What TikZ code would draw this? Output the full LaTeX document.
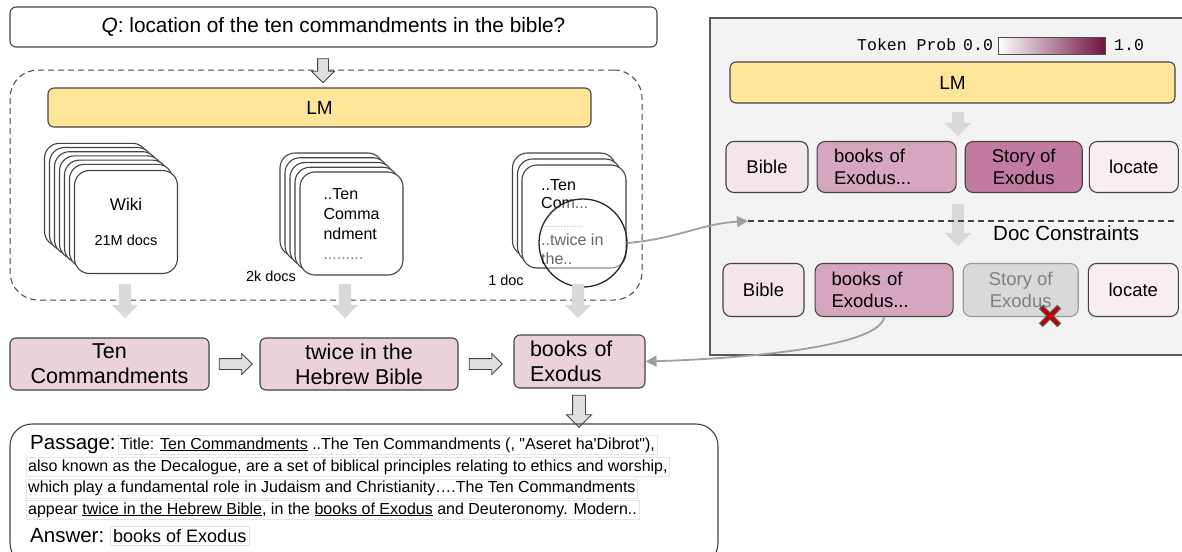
\documentclass[tikz,border=0pt]{standalone}
\usepackage{fontspec}
\setmainfont{Liberation Sans}
\setmonofont{Liberation Mono}
\usetikzlibrary{positioning, arrows.meta, shapes.arrows, shapes.misc}
\definecolor{lmyellow}{HTML}{FFE599}
\definecolor{rowpink}{HTML}{EAD1DC}
\definecolor{tokpale}{HTML}{F4E6EC}
\definecolor{tokmid}{HTML}{D5A6BD}
\definecolor{tokhigh}{HTML}{C27BA0}
\definecolor{probmax}{HTML}{6E1241}
\definecolor{panelgray}{HTML}{F3F3F3}
\definecolor{edge}{HTML}{434343}
\newcommand{\fsz}[2]{\fontsize{#1}{#2}\selectfont}
\newcommand{\dq}{\XeTeXglyph\XeTeXcharglyph"22\relax} % straight double quote
\newcommand{\sq}{\XeTeXglyph\XeTeXcharglyph"27\relax} % straight apostrophe
\tikzset{
	>={Triangle[length=11pt,width=11pt]}, % filled heads for the grey links
	box/.style={draw=edge, line width=1.1pt, rounded corners=6pt, inner sep=0pt}, % every framed box
	lmbar/.style={box, fill=lmyellow, font=\fsz{19}{23}}, % the yellow LM bars
	rowbox/.style={box, fill=rowpink, minimum height=52pt, align=center, font=\fsz{21.5}{25}}, % retrieved spans
	tok/.style={box, rounded corners=8pt, minimum height=51pt, align=center, font=\fsz{18.5}{22}}, % candidate tokens
	docard/.style={box, fill=white, minimum size=103pt, rounded corners=15pt, align=left}, % one document
	blockdown/.style={single arrow, shape border rotate=270, draw=edge, line width=0.9pt, fill=gray!25, inner sep=5pt, single arrow head extend=6pt}, % outlined block arrow
	blockright/.style={single arrow, draw=edge, line width=0.9pt, fill=gray!25, inner sep=5pt, single arrow head extend=5pt, minimum height=33pt}, % outlined, pointing right
	graydown/.style={single arrow, shape border rotate=270, draw=none, fill=gray!30, inner sep=6pt, single arrow head extend=7pt, minimum height=34pt}, % plain grey arrow
	graylink/.style={->, draw=gray!75, line width=1.8pt}, % curved grey connector
	psgline/.style={draw=gray!20, fill=white, inner sep=2pt, anchor=base west, font=\fsz{16}{19}}, % one line of the passage
	small/.style={font=\fsz{14.5}{17}, inner sep=0pt}, % doc counts
}
\begin{document}
\begin{tikzpicture}[x=1pt, y=-1pt]
\useasboundingbox (0,0) rectangle (1182,551);

% question and retrieval
\node[box, minimum width=647pt, minimum height=40pt, font=\fsz{20.8}{24}] (q) at (333.5,27) {\textit{Q}: location of the ten commandments in the bible?};
\node[box, dash pattern=on 6pt off 4pt, line width=1pt, rounded corners=28pt, minimum width=632pt, minimum height=230pt] (ret) at (326,185) {};
\node[blockdown, minimum height=24pt] (qdown) at (323,68) {};
\node[lmbar, minimum width=543pt, minimum height=39pt] (lm) at (319.5,107.5) {LM};

% stacks of documents
\foreach \i in {6,...,1}
	\node[docard] (wiki\i) at ({126-5*\i},{220-4.2*\i}) {};
\node[docard, align=center] (wiki) at (126,222) {{\fsz{17}{20}Wiki}\\[23pt]{\fsz{14.5}{17}21M docs}};
\foreach \i in {4,...,1}
	\node[docard] (tc\i) at ({351.5-5*\i},{223.5-4.75*\i}) {};
\node[docard, font=\fsz{16}{20}] (tc) at (351.5,223.5) {..Ten\\Comma\\ndment\\\textcolor{gray}{.........}};
\foreach \i in {2,1}
	\node[docard] (one\i) at ({574-5*\i},{216.5-6*\i}) {};
\node[docard, minimum width=104pt] (one) at (574,216.5) {};
\node[font=\fsz{16}{18.5}, align=left, inner sep=0pt, anchor=base west] (onetxt) at (541,264) {..Ten\\Com...\\{\fsz{10}{10}\textcolor{gray}{...............}}\\..twice in\\the..};
\node[small] (n2k) at (271,276) {2k docs};
\node[small] (n1) at (506,280) {1 doc};
\node[circle, draw=black!85, line width=1.3pt, fill=white, fill opacity=0.4, minimum size=88pt] (mag) at (583,243) {};

\node[graydown] (d1) at (125,298) {};
\node[graydown] (d2) at (345,298) {};
\node[graydown] (d3) at (578,298) {};

% retrieved spans
\node[rowbox, minimum width=199pt] (ten) at (109.5,364) {Ten\\Commandments};
\node[blockright] (r1) at (233,364) {};
\node[rowbox, minimum width=198pt] (twice) at (359,364) {twice in the\\Hebrew Bible};
\node[blockright] (r2) at (483,364) {};
\node[rowbox, minimum width=131pt, minimum height=53pt, align=left, text width=99pt] (exo) at (579.5,361.5) {books of\\Exodus};
\node[blockdown, minimum height=32pt, inner sep=6pt] (exdown) at (579,408) {};

% passage and answer
\node[box, rounded corners=22pt, minimum width=708pt, minimum height=141pt] (psg) at (364,494.5) {};
\node[font=\fsz{20.5}{24}, anchor=base west, inner sep=0pt] (psgl) at (30,449) {Passage:};
\node[psgline] (l1) at (118,449) {Title: \underline{Ten Commandments} ..The Ten Commandments (, \dq Aseret ha\sq Dibrot\dq),};
\node[psgline] (l2) at (26,471) {also known as the Decalogue, are a set of biblical principles relating to ethics and worship,};
\node[psgline] (l3) at (26,492.5) {which play a fundamental role in Judaism and Christianity….The Ten Commandments};
\node[psgline] (l4) at (26,514) {appear \underline{twice in the Hebrew Bible}, in the \underline{books of Exodus} and Deuteronomy. Modern..};
\node[font=\fsz{20.5}{24}, anchor=base west, inner sep=0pt] (ansl) at (30,542) {Answer:};
\node[draw=gray!25, fill=white, inner sep=3pt, font=\fsz{18}{22}, anchor=base west] (ansv) at (110,542) {books of Exodus};

% constrained decoding panel
\node[draw=black!65, line width=1.2pt, fill=panelgray, minimum width=480pt, minimum height=337pt] (panel) at (950,186.5) {};
\node[font=\ttfamily\fsz{16.5}{19}, anchor=base west, inner sep=0pt] (tp) at (857,51) {Token Prob};
\node[font=\ttfamily\fsz{16.5}{19}, anchor=base west, inner sep=0pt] (p0) at (963,51) {0.0};
\node[draw=black!70, line width=1pt, left color=white, right color=probmax, minimum width=107pt, minimum height=17pt, inner sep=0pt] (bar) at (1051.5,46.5) {};
\node[font=\ttfamily\fsz{16.5}{19}, anchor=base west, inner sep=0pt] (p1) at (1114,51) {1.0};
\node[lmbar, minimum width=445pt, minimum height=41pt] (lm2) at (952.5,82.5) {LM};
\node[graydown, minimum height=24pt] (g1) at (958,121) {};

\node[tok, fill=tokpale, minimum width=82pt] (b1) at (767,167) {Bible};
\node[tok, fill=tokmid, minimum width=139pt, text width=105pt, align=left, right=8pt of b1] (e1) {books of\\Exodus...};
\node[tok, fill=tokhigh, minimum width=117pt, right=8pt of e1] (s1) {Story of\\Exodus};
\node[tok, fill=tokpale!70!white, minimum width=89pt, right=6pt of s1] (c1) {locate};

\coordinate (cutl) at (748,221);
\coordinate (cutr) at (1176,221);
\node[graydown, minimum height=42pt] (g2) at (958,222) {};
\draw[dash pattern=on 6pt off 4pt, line width=1.1pt, draw=edge] (cutl) -- (cutr);
\node[font=\fsz{20.5}{24}, anchor=base west, inner sep=0pt] (dc) at (993,240) {Doc Constraints};

\node[tok, fill=tokpale, minimum width=81pt, minimum height=53pt] (b2) at (763.5,290) {Bible};
\node[tok, fill=tokmid, minimum width=138pt, minimum height=53pt, text width=105pt, align=left, right=10pt of b2] (e2) {books of\\Exodus...};
\node[tok, fill=gray!30, draw=gray!80, text=gray, minimum width=115pt, minimum height=53pt, right=9pt of e2] (s2) {Story of\\Exodus};
\node[tok, fill=tokpale!70!white, minimum width=90pt, minimum height=53pt, right=9pt of s2] (c2) {locate};
\node[cross out, draw=black!65, line width=5.5pt, minimum size=13pt, inner sep=0pt] (xo) at (1050,316) {};
\node[cross out, draw=red!75!black, line width=3.5pt, minimum size=13pt, inner sep=0pt] (xi) at (1050,316) {};

% links
\draw[graylink] (mag.east) .. controls (680,238) and (700,224) .. (cutl);
\draw[graylink] (e2.south) .. controls (880,345) and (760,358) .. (exo.east);
\end{tikzpicture}
\end{document}
